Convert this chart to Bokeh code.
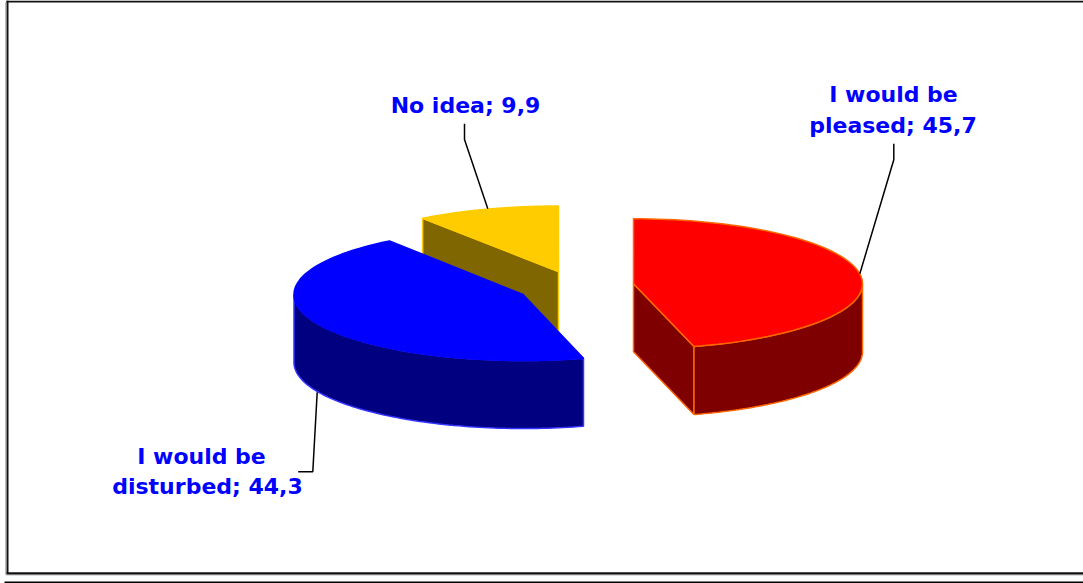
import math
from bokeh.plotting import figure
from bokeh.models import Range1d
from bokeh.core.properties import value
from bokeh.embed import file_html
from bokeh.resources import INLINE

# --- data -------------------------------------------------------------
categories = ["I would be pleased", "I would be disturbed", "No idea"]
shares = [45.7, 44.3, 9.9]
label_lines = [["I would be", "pleased; 45,7"], ["I would be", "disturbed; 44,3"], ["No idea; 9,9"]]
top_colors = ["#FF0000", "#0000FF", "#FFCC00"]
side_colors = ["#7F0000", "#000080", "#806600"]
edge_colors = ["#FF6600", "#3333FF", "#FFCC00"]
top_edges = ["#FF6600", "#0000FF", "#FFCC00"]
# --- layout -----------------------------------------------------------
W, H = 1083, 583
centers = [(633, 283.3), (522.5, 294), (558, 271)]
RXS = [229, 229, 233]
RYS = [65, 66, 65.5]
DEPTH = 68
label_x = [[893, 892.5], [201, 207], [465]]
label_y = [94, 455.5, 105]
LINE_H = 30.5
FONT = "DejaVu Sans"
FONT_PX = "22px"
leaders = [([893.3, 893.3, 859.3], [143.3, 159.3, 273.3]),
           ([297.7, 312.3, 316.7], [471.3, 471.3, 391.7]),
           ([464, 464, 487.3], [123.3, 139, 208.3])]

p = figure(width=W, height=H, x_range=Range1d(0, W), y_range=Range1d(H, 0),
           output_backend="svg", toolbar_location=None, min_border=0,
           outline_line_color=None)
p.axis.visible = False
p.grid.visible = False

# frame with its soft shadow
p.line([5, 5], [2, 574], line_color="#BBBBBB", line_width=1)
p.line([5, W], [574.5, 574.5], line_color="#BBBBBB", line_width=1)
p.line([7, 7], [0, 573], line_color="#111111", line_width=2)
p.line([6, W], [1, 1], line_color="#111111", line_width=2)
p.line([6, W], [572.8, 572.8], line_color="#111111", line_width=2.2)
p.line([4, W], [582, 582], line_color="#000000", line_width=2)

def pt(i, t, dz=0):
    r = math.radians(t)
    c = centers[i]
    return c[0] + RXS[i] * math.sin(r), c[1] - RYS[i] * math.cos(r) + dz

def arc(i, a, b, dz=0, n=80):
    pts = [pt(i, a + (b - a) * k / n, dz) for k in range(n + 1)]
    return [q[0] for q in pts], [q[1] for q in pts]

# slice angles from the values
total = sum(shares)
angles = []
acc = 0.0
for s in shares:
    angles.append((acc, acc + s / total * 360))
    acc += s / total * 360

for i in (2, 1, 0):
    c = centers[i]
    a, b = angles[i]
    if i == 2:
        ex, ey = pt(i, a)
        p.patch([c[0], ex, ex, c[0]], [c[1], ey, ey + DEPTH, c[1] + DEPTH],
                fill_color=side_colors[i], line_color=edge_colors[i], line_width=1.5)
    if i == 0:
        ex, ey = pt(i, b)
        p.patch([c[0], ex, ex, c[0]], [c[1], ey, ey + DEPTH, c[1] + DEPTH],
                fill_color=side_colors[i], line_color=edge_colors[i], line_width=1.5)
    w0, w1 = max(a, 90), min(b, 270)
    if w1 > w0:
        tx, ty = arc(i, w0, w1)
        bx, by = arc(i, w0, w1, DEPTH)
        p.patch(tx + bx[::-1], ty + by[::-1], fill_color=side_colors[i],
                line_color=edge_colors[i], line_width=1.5)
    tx, ty = arc(i, a, b)
    p.patch([c[0]] + tx, [c[1]] + ty, fill_color=top_colors[i],
            line_color=top_edges[i], line_width=1.5)

for xs, ys in leaders:
    p.line(xs, ys, line_color="#000000", line_width=1.5)

for lines, xs, y in zip(label_lines, label_x, label_y):
    for k, t in enumerate(lines):
        p.text([xs[k]], [y + k * LINE_H], text=[t], text_color="#0000FF",
               text_font=value(FONT), text_font_style="bold", text_font_size=FONT_PX,
               text_align="center", text_baseline="middle")

open("out.html", "w").write(file_html(p, INLINE))
